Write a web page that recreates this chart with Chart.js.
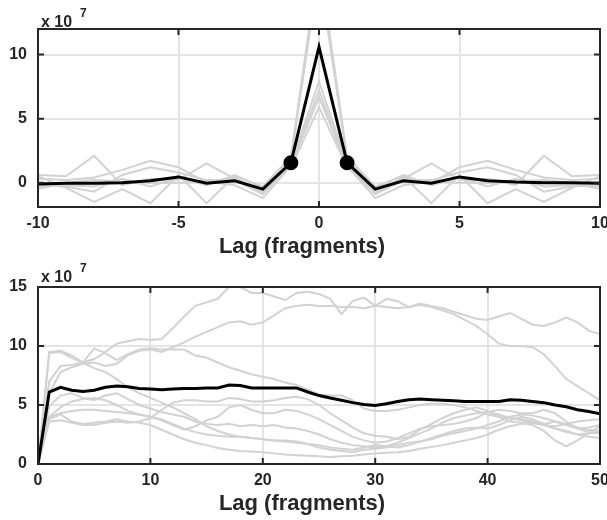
<!DOCTYPE html>
<html lang="en">
<head>
  <meta charset="UTF-8">
  <title>Lag correlation</title>
  <script src="https://cdn.jsdelivr.net/npm/chart.js"></script>
  <style>
    body {
      margin: 0;
      background: #ffffff;
    }
    .panel {
      position: absolute;
      left: 0;
      width: 607px;
      height: 260px;
    }
    #topPanel { top: 0; }
    #bottomPanel { top: 260px; }
  </style>
</head>
<body>

  <div class="panel" id="topPanel"><canvas id="topChart" width="607" height="260"></canvas></div>
  <div class="panel" id="bottomPanel"><canvas id="bottomChart" width="607" height="260"></canvas></div>

  <script>
    // ---- top panel: short lags ----
    const lagsTop = [-10, -9, -8, -7, -6, -5, -4, -3, -2, -1, 0, 1, 2, 3, 4, 5, 6, 7, 8, 9, 10];
    const meanTop = [-0.1, -0.05, -0.05, 0.0, 0.15, 0.45, -0.05, 0.15, -0.5, 1.55, 10.6, 1.55, -0.5, 0.15, -0.05, 0.45, 0.15, 0.05, 0.0, 0.0, -0.05];
    const grayTop = [
      [0.5, -0.4, -1.5, -0.5, -1.6, 0.6, -1.6, 0.5, -0.3, 2.0, 17.5, 2.0, -0.3, 0.5, -1.6, 0.6, -1.6, -0.5, -1.5, -0.4, 0.5],
      [0.6, 0.5, 2.1, -0.2, 0.3, 0.2, 1.5, 0.3, -0.6, 1.8, 16.5, 1.8, -0.6, 0.3, 1.5, 0.2, 0.3, -0.2, 2.1, 0.5, 0.6],
      [0.3, 0.2, 0.4, 1.0, 1.7, 1.2, 0.0, 0.4, -0.8, 1.5, 7.9, 1.5, -0.8, 0.4, 0.0, 1.2, 1.7, 1.0, 0.4, 0.2, 0.3],
      [-0.2, -0.3, -0.7, 0.6, 1.2, 0.8, 0.2, 0.2, -0.9, 1.4, 7.2, 1.4, -0.9, 0.2, 0.2, 0.8, 1.2, 0.6, -0.7, -0.3, -0.2],
      [-0.5, 0.0, 0.2, 0.1, 0.0, 0.0, 0.1, -0.2, -1.2, 1.3, 6.7, 1.3, -1.2, -0.2, 0.1, 0.0, 0.0, 0.1, 0.2, 0.0, -0.5],
      [-0.3, -0.2, -0.3, 0.3, -0.3, 0.4, -0.2, 0.6, -0.4, 1.2, 5.9, 1.2, -0.4, 0.6, -0.2, 0.4, -0.3, 0.3, -0.3, -0.2, -0.3]
    ];
    const markedLags = [-1, 1];
    const xTicksTop = [-10, -5, 0, 5, 10];
    const yTicksTop = [0, 5, 10];

    // ---- bottom panel: long lags ----
    const lagsBottom = [0, 1, 2, 3, 4, 5, 6, 7, 8, 9, 10, 11, 12, 13, 14, 15, 16, 17, 18, 19, 20, 21, 22, 23, 24, 25,
      26, 27, 28, 29, 30, 31, 32, 33, 34, 35, 36, 37, 38, 39, 40, 41, 42, 43, 44, 45, 46, 47, 48, 49, 50];
    const meanBottom = [0, 6.1, 6.5, 6.25, 6.15, 6.25, 6.5, 6.6, 6.55, 6.4, 6.35, 6.3, 6.35, 6.4, 6.4, 6.45, 6.45, 6.7, 6.65, 6.45, 6.45, 6.45, 6.45, 6.45, 6.1, 5.8,
      5.6, 5.4, 5.2, 5.05, 4.95, 5.1, 5.3, 5.45, 5.5, 5.45, 5.4, 5.35, 5.3, 5.3, 5.3, 5.3, 5.45, 5.4, 5.3, 5.2, 5.0, 4.85, 4.6, 4.45, 4.25];
    const grayBottom = [
      [0, 7.0, 8.3, 8.4, 8.6, 8.9, 9.5, 10.2, 10.4, 10.6, 10.5, 10.6, 11.5, 12.5, 13.4, 13.7, 14.0, 15.0, 15.0, 14.5, 14.5, 14.2, 13.9, 14.5, 14.6, 14.4,
        14.0, 12.7, 13.8, 14.1, 13.4, 14.0, 13.8, 13.3, 13.6, 13.4, 13.2, 12.9, 12.6, 12.3, 12.2, 12.5, 12.8, 12.3, 11.8, 11.7, 12.0, 12.4, 12.0, 11.3, 11.0],
      [0, 6.0, 7.8, 8.2, 8.5, 8.6, 8.3, 8.5, 9.2, 9.6, 9.7, 9.5, 9.9, 10.3, 10.8, 11.2, 11.6, 12.0, 12.1, 11.8, 12.0, 12.6, 13.2, 13.4, 13.5, 13.4,
        13.4, 13.3, 13.3, 13.2, 13.4, 13.3, 13.2, 13.3, 13.5, 13.3, 13.0, 12.7, 12.2, 11.7, 11.0, 10.2, 10.0, 10.0, 9.9, 9.3, 8.3, 7.2, 6.6, 6.0, 5.4],
      [0, 9.4, 9.5, 9.0, 8.6, 9.8, 9.4, 8.8, 9.3, 9.7, 9.8, 9.7, 9.7, 9.7, 9.2, 9.0, 8.6, 8.2, 7.9, 7.6, 7.4, 7.2, 6.9, 6.7, 6.3, 5.9,
        5.8, 5.8, 5.4, 4.7, 4.5, 4.5, 4.6, 4.8, 5.0, 5.1, 5.1, 5.0, 4.8, 4.5, 4.2, 4.0, 3.9, 3.8, 3.6, 3.4, 3.6, 3.4, 3.1, 2.9, 2.8],
      [0, 9.5, 9.6, 9.2, 8.6, 8.1, 7.8, 7.2, 6.5, 6.0, 5.6, 5.2, 4.8, 4.3, 3.8, 3.2, 2.8, 2.5, 2.3, 2.2, 2.1, 2.0, 2.0, 1.9, 1.7, 1.4,
        1.2, 1.1, 1.0, 1.2, 1.3, 1.4, 1.6, 1.8, 1.9, 2.2, 2.5, 2.8, 3.0, 3.1, 3.0, 3.3, 3.7, 4.0, 3.8, 3.4, 3.0, 2.7, 2.5, 2.6, 2.7],
      [0, 3.8, 4.2, 3.6, 3.4, 3.5, 3.6, 3.8, 3.6, 3.5, 3.3, 2.9, 2.5, 2.1, 1.8, 1.6, 1.35, 1.2, 1.1, 1.05, 1.0, 0.9, 0.8, 0.75, 0.7, 0.65,
        0.6, 0.65, 0.7, 0.8, 0.9, 0.95, 1.0, 1.1, 1.3, 1.45, 1.6, 1.8, 2.0, 2.2, 2.5, 2.9, 3.2, 3.4, 3.5, 3.3, 3.0, 2.8, 2.5, 2.3, 2.2],
      [0, 4.0, 4.3, 4.5, 4.6, 4.6, 4.5, 4.4, 4.3, 4.2, 4.0, 3.8, 3.4, 3.0, 2.7, 2.5, 2.4, 2.3, 2.3, 2.2, 2.1, 2.0, 1.9, 1.8, 1.7, 1.6,
        1.4, 1.3, 1.2, 1.4, 1.6, 1.5, 1.4, 1.6, 1.9, 2.1, 2.4, 2.6, 2.8, 3.0, 3.3, 3.6, 4.0, 4.2, 4.1, 3.9, 3.6, 3.3, 3.0, 3.1, 3.3],
      [0, 3.6, 3.7, 3.5, 3.3, 3.3, 3.5, 3.6, 3.5, 3.6, 3.9, 4.6, 5.2, 5.4, 5.4, 5.3, 5.3, 5.6, 5.5, 5.3, 5.3, 5.4, 5.6, 5.7, 5.5, 5.0,
        4.3, 3.7, 3.1, 2.6, 2.4, 2.3, 2.1, 2.3, 2.9, 3.4, 3.9, 4.3, 4.6, 4.8, 4.5, 4.0, 3.6, 3.5, 3.3, 2.8, 2.0, 1.5, 2.0, 2.6, 3.2],
      [0, 4.0, 4.8, 5.3, 5.5, 5.6, 5.4, 5.0, 4.5, 4.2, 4.0, 3.7, 3.3, 2.9, 3.2, 3.7, 4.0, 4.8, 5.0, 4.6, 4.3, 4.3, 4.6, 4.5, 4.2, 3.8,
        3.3, 2.8, 2.3, 2.0, 1.8, 1.9, 2.2, 2.6, 3.0, 3.2, 3.3, 3.4, 3.6, 3.9, 4.4, 4.6, 4.5, 4.3, 4.3, 4.6, 4.3, 3.6, 3.0, 2.7, 2.6],
      [0, 4.9, 5.8, 6.0, 5.6, 5.4, 5.8, 6.0, 5.5, 5.0, 4.7, 4.4, 4.2, 4.0, 3.6, 3.4, 3.3, 3.4, 3.2, 3.3, 3.2, 3.3, 3.1, 3.0, 2.8, 2.5,
        2.1, 1.8, 1.6, 1.5, 1.4, 1.5, 1.8, 2.2, 2.6, 3.0, 3.5, 3.9, 4.1, 4.3, 4.4, 4.2, 3.9, 3.7, 3.5, 3.3, 3.2, 3.4, 3.6, 3.7, 3.8]
    ];
    const xTicksBottom = [0, 10, 20, 30, 40, 50];
    const yTicksBottom = [0, 5, 10, 15];

    const axisColor = '#262626';
    const gridColor = '#e4e4e4';
    const grayColor = '#d2d2d2';
    const fontFamily = "'Liberation Sans', Arial, sans-serif";

    function pts(xs, ys) {
      return xs.map((x, i) => ({ x: x, y: ys[i] }));
    }

    // box, inward ticks, exponent and axis label in the MATLAB style
    const matlabFrame = {
      id: 'matlabFrame',
      afterDraw(chart, args, opts) {
        const ctx = chart.ctx;
        const a = chart.chartArea;
        const xs = chart.scales.x, ys = chart.scales.y;
        ctx.save();
        ctx.strokeStyle = axisColor;
        ctx.lineWidth = 2;
        ctx.strokeRect(a.left, a.top, a.right - a.left, a.bottom - a.top);
        ctx.beginPath();
        opts.xTicks.forEach(v => {
          const px = xs.getPixelForValue(v);
          ctx.moveTo(px, a.bottom); ctx.lineTo(px, a.bottom - 6);
          ctx.moveTo(px, a.top); ctx.lineTo(px, a.top + 6);
        });
        opts.yTicks.forEach(v => {
          const py = ys.getPixelForValue(v);
          ctx.moveTo(a.left, py); ctx.lineTo(a.left + 6, py);
          ctx.moveTo(a.right, py); ctx.lineTo(a.right - 6, py);
        });
        ctx.stroke();

        ctx.fillStyle = axisColor;
        ctx.textAlign = 'left';
        ctx.textBaseline = 'alphabetic';
        ctx.font = 'bold 16px ' + fontFamily;
        ctx.fillText('x 10', a.left + 3, a.top - opts.expGap);
        ctx.font = 'bold 12px ' + fontFamily;
        ctx.fillText('7', a.left + 42, a.top - opts.expGap - 10);

        ctx.textAlign = 'center';
        ctx.font = 'bold 22px ' + fontFamily;
        ctx.fillText('Lag (fragments)', 302, a.bottom + 46);
        ctx.restore();
      }
    };

    function makeChart(canvasId, xs, mean, grays, xMin, xMax, xStep, yMin, yMax, padTop, axisH, frameOpts, withMarkers) {
      const datasets = [{
        data: pts(xs, mean),
        borderColor: '#000000',
        backgroundColor: '#000000',
        borderWidth: 3,
        pointRadius: withMarkers ? (c => markedLags.includes(c.raw.x) ? 6 : 0) : 0,
        pointHoverRadius: 0,
        tension: 0
      }];
      grays.forEach(g => {
        datasets.push({
          data: pts(xs, g),
          borderColor: grayColor,
          borderWidth: 2,
          pointRadius: 0,
          tension: 0
        });
      });

      return new Chart(document.getElementById(canvasId), {
        type: 'line',
        data: { datasets: datasets },
        options: {
          responsive: false,
          animation: false,
          layout: { padding: { top: padTop, right: 7, left: 0, bottom: 0 } },
          plugins: {
            legend: { display: false },
            tooltip: { enabled: false },
            matlabFrame: frameOpts
          },
          scales: {
            x: {
              type: 'linear',
              min: xMin,
              max: xMax,
              border: { display: false },
              grid: { color: gridColor, lineWidth: 2, drawTicks: false },
              ticks: {
                stepSize: xStep,
                includeBounds: false,
                maxRotation: 0,
                padding: 7,
                color: axisColor,
                font: { family: fontFamily, size: 16, weight: 'bold' }
              },
              afterFit(s) { s.height = axisH; s.paddingLeft = 0; s.paddingRight = 0; }
            },
            y: {
              min: yMin,
              max: yMax,
              border: { display: false },
              grid: { color: gridColor, lineWidth: 2, drawTicks: false },
              ticks: {
                stepSize: 5,
                includeBounds: false,
                padding: 11,
                color: axisColor,
                font: { family: fontFamily, size: 16, weight: 'bold' }
              },
              afterFit(s) { s.width = 38; s.paddingTop = 0; s.paddingBottom = 0; }
            }
          }
        },
        plugins: [matlabFrame]
      });
    }

    makeChart('topChart', lagsTop, meanTop, grayTop, -10, 10, 5, -1.9, 12, 29, 53,
      { xTicks: xTicksTop, yTicks: yTicksTop, expGap: 2 }, true);
    makeChart('bottomChart', lagsBottom, meanBottom, grayBottom, 0, 50, 10, 0, 15, 27, 56,
      { xTicks: xTicksBottom, yTicks: yTicksBottom, expGap: 5 }, false);
  </script>

</body>
</html>
